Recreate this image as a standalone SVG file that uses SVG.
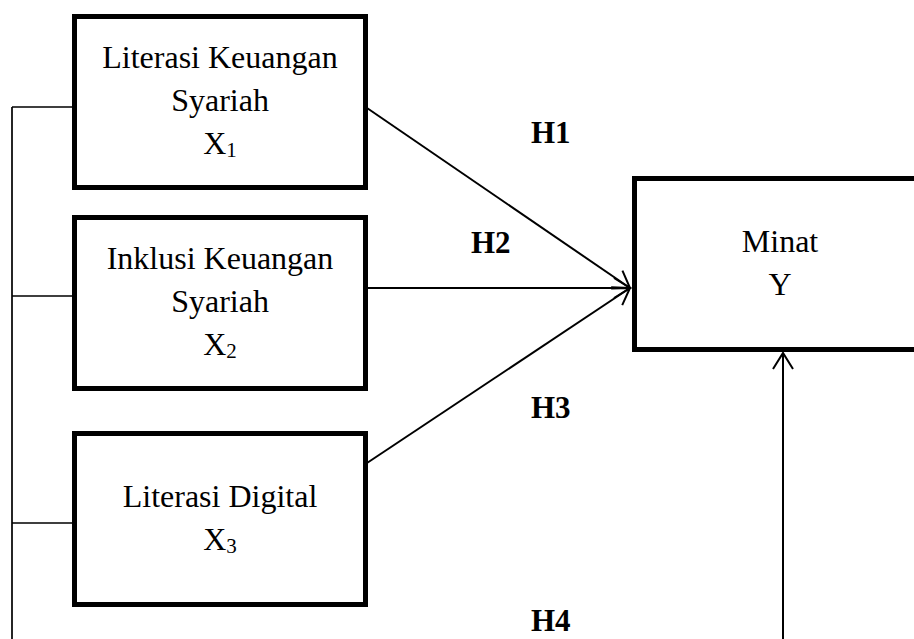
<svg xmlns="http://www.w3.org/2000/svg" width="914" height="639" viewBox="0 0 914 639">
<style>
.box{fill:#fff;stroke:#000;stroke-width:5;stroke-linejoin:miter}
.lbl{font-family:"Liberation Serif","Times New Roman",serif;font-size:32px;fill:#000;text-anchor:middle}
.sub{font-size:21px}
.h{font-family:"Liberation Serif","Times New Roman",serif;font-size:31px;font-weight:bold;fill:#000}
.ln{stroke:#000;stroke-width:2;fill:none}
.thin{stroke:#000;stroke-width:1.7;fill:none}
</style>
<defs>
<marker id="arr" viewBox="-18 -12 20 24" refX="0" refY="0" markerWidth="20" markerHeight="24" markerUnits="userSpaceOnUse" orient="auto">
<path d="M-16,-10 L0,0 L-16,10" fill="none" stroke="#000" stroke-width="2"/>
</marker>
</defs>
<g id="connectors">
<path class="thin" d="M12,107 V639 M12,107 H72 M12,296 H72 M12,523 H72"/>
<line class="ln" x1="367" y1="108" x2="630" y2="288" marker-end="url(#arr)"/>
<line class="ln" x1="367" y1="288" x2="630" y2="288" marker-end="url(#arr)"/>
<line class="ln" x1="367" y1="463" x2="630" y2="288" marker-end="url(#arr)"/>
<line class="ln" x1="783" y1="639" x2="783" y2="353" marker-end="url(#arr)"/>
</g>
<g id="x1">
<rect class="box" x="74.5" y="16.5" width="291" height="171"/>
<text class="lbl" x="220" y="68">Literasi Keuangan</text>
<text class="lbl" x="220" y="111">Syariah</text>
<text class="lbl" x="220" y="154">X<tspan class="sub" dy="3">1</tspan></text>
</g>
<g id="x2">
<rect class="box" x="74.5" y="217.5" width="291" height="171"/>
<text class="lbl" x="220" y="269">Inklusi Keuangan</text>
<text class="lbl" x="220" y="312">Syariah</text>
<text class="lbl" x="220" y="355">X<tspan class="sub" dy="3">2</tspan></text>
</g>
<g id="x3">
<rect class="box" x="74.5" y="433.5" width="291" height="171"/>
<text class="lbl" x="220" y="507">Literasi Digital</text>
<text class="lbl" x="220" y="550">X<tspan class="sub" dy="3">3</tspan></text>
</g>
<g id="y">
<rect class="box" x="634.5" y="178.5" width="300" height="171"/>
<text class="lbl" x="780" y="252">Minat</text>
<text class="lbl" x="780" y="295">Y</text>
</g>
<g id="labels">
<text class="h" x="531" y="143">H1</text>
<text class="h" x="471" y="253">H2</text>
<text class="h" x="531" y="418">H3</text>
<text class="h" x="531" y="631">H4</text>
</g>
</svg>
